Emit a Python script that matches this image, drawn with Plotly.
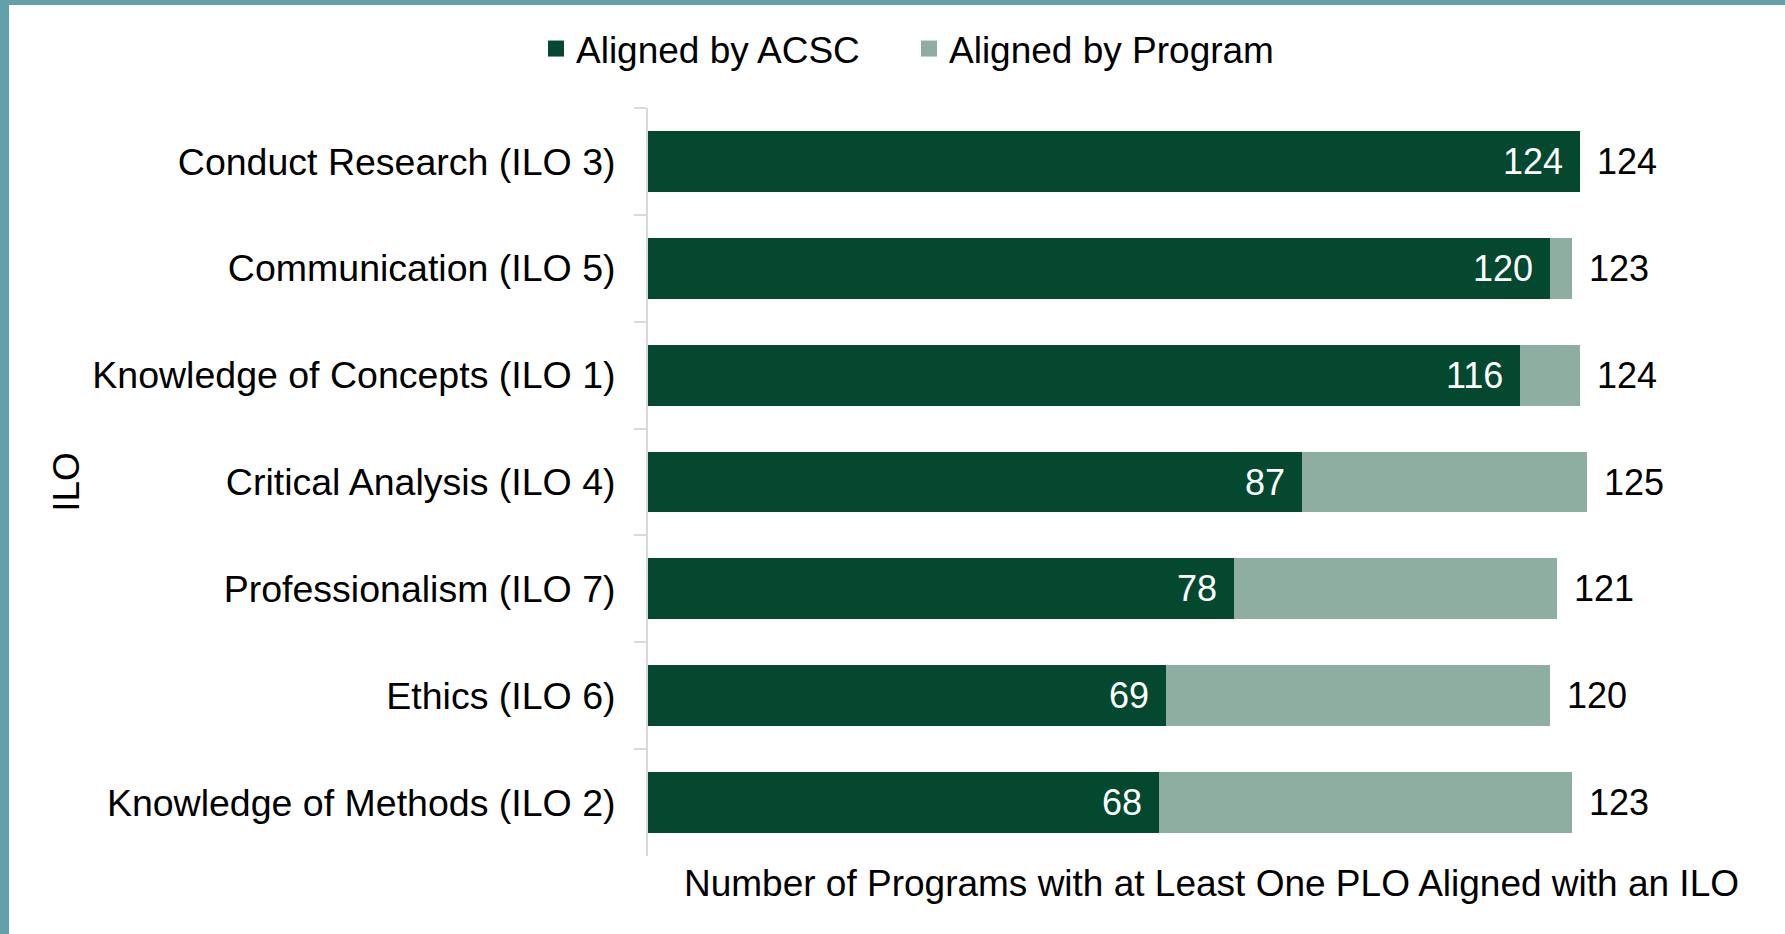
import plotly.graph_objects as go

categories = [
    "Conduct Research (ILO 3)",
    "Communication (ILO 5)",
    "Knowledge of Concepts (ILO 1)",
    "Critical Analysis (ILO 4)",
    "Professionalism (ILO 7)",
    "Ethics (ILO 6)",
    "Knowledge of Methods (ILO 2)",
]
aligned_acsc = [124, 120, 116, 87, 78, 69, 68]
aligned_program = [0, 3, 8, 38, 43, 51, 55]
totals = [a + p for a, p in zip(aligned_acsc, aligned_program)]
series_names = ["Aligned by ACSC", "Aligned by Program"]

DARK = "#03482F"
LIGHT = "#8FAEA2"
TEAL = "#62A0AA"
FONT = "Liberation Sans, Arial, sans-serif"

W, H = 1785, 934
L, R, T, B = 648, 10, 108, 78
PW, PH = W - L - R, H - T - B

fig = go.Figure()
for name, vals, col in zip(series_names, [aligned_acsc, aligned_program], [DARK, LIGHT]):
    fig.add_trace(go.Bar(y=categories, x=vals, orientation="h", name=name, legendgroup=name,
                         showlegend=False, marker=dict(color=col, line=dict(width=0))))
# legend entries with larger square swatches
for name, col in zip(series_names, [DARK, LIGHT]):
    fig.add_trace(go.Scatter(x=[None], y=[None], mode="markers", name=name, legendgroup=name,
                             marker=dict(symbol="square", size=18, color=col), showlegend=True))

annotations = []
for c, a, t in zip(categories, aligned_acsc, totals):
    annotations.append(dict(x=a, y=c, xref="x", yref="y", text=str(a), showarrow=False,
                            xanchor="right", xshift=-15, font=dict(color="white", size=36, family=FONT)))
    annotations.append(dict(x=t, y=c, xref="x", yref="y", text=str(t), showarrow=False,
                            xanchor="left", xshift=15, font=dict(color="black", size=36, family=FONT)))

def px_x(px):
    return (px - L) / PW

def px_y(py):
    return (H - B - py) / PH

shapes = [
    dict(type="rect", xref="paper", yref="paper", x0=px_x(0), x1=px_x(W), y0=px_y(5), y1=px_y(0),
         fillcolor=TEAL, line=dict(width=0), layer="above"),
    dict(type="rect", xref="paper", yref="paper", x0=px_x(0), x1=px_x(9), y0=px_y(H), y1=px_y(0),
         fillcolor=TEAL, line=dict(width=0), layer="above"),
]

fig.update_layout(
    width=W, height=H,
    margin=dict(l=L, r=R, t=T, b=B, autoexpand=False),
    barmode="stack", bargap=0.43,
    plot_bgcolor="white", paper_bgcolor="white",
    font=dict(family=FONT, size=37, color="black"),
    legend=dict(orientation="h", x=px_x(536), xanchor="left", y=px_y(49), yanchor="middle",
                font=dict(size=37), traceorder="normal", entrywidth=328, entrywidthmode="pixels",
                bgcolor="rgba(0,0,0,0)"),
    annotations=annotations,
    shapes=shapes,
)
fig.update_xaxes(range=[0, 150], showticklabels=False, showgrid=False, zeroline=False,
                 showline=False, ticks="",
                 title=dict(text="Number of Programs with at Least One PLO Aligned with an ILO",
                            font=dict(size=37), standoff=14))
fig.update_yaxes(autorange="reversed", showgrid=False, zeroline=False, showline=True,
                 linecolor="#D9D9D9", linewidth=2, ticks="outside", tickson="boundaries",
                 ticklen=12, tickcolor="#D9D9D9", tickwidth=2, ticklabelstandoff=23,
                 tickfont=dict(size=37.5),
                 title=dict(text="ILO", font=dict(size=37), standoff=1))

fig.write_html("out.html", config={"displayModeBar": False},
               post_script="document.body.style.margin='0';document.body.style.overflow='hidden';")
